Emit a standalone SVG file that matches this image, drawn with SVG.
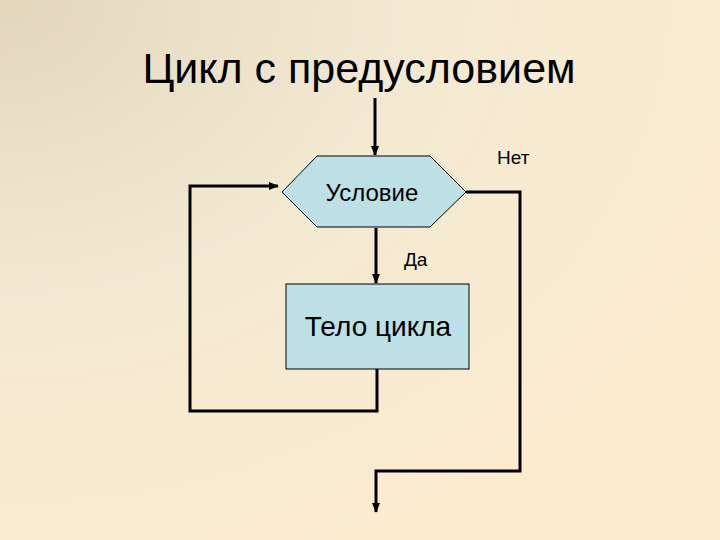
<svg xmlns="http://www.w3.org/2000/svg" width="720" height="540" viewBox="0 0 720 540">
<defs>
<radialGradient id="bg" cx="0" cy="0" r="1.1" gradientUnits="objectBoundingBox">
<stop offset="0" stop-color="#e2d7bd"/><stop offset="0.5" stop-color="#f3e9d2"/><stop offset="1" stop-color="#fbecd0"/>
</radialGradient>
<marker id="ar" viewBox="0 0 10 10" refX="9" refY="5" markerWidth="10" markerHeight="10" markerUnits="userSpaceOnUse" orient="auto"><path d="M0,1 L10,5 L0,9 z" fill="#000"/></marker>
<style>
.ln{fill:none;stroke:#000;stroke-width:3}
.sh{fill:#bde0e6;stroke:#000;stroke-width:1}
text{font-family:"Liberation Sans",Arial,sans-serif;fill:#000}
</style>
</defs>
<rect width="720" height="540" fill="url(#bg)"/>
<text x="359" y="83" font-size="43" text-anchor="middle">Цикл с предусловием</text>
<g id="connectors">
<path class="ln" d="M375,98 V155" marker-end="url(#ar)"/>
<path class="ln" d="M376,228 V283" marker-end="url(#ar)"/>
<path class="ln" d="M377,369 V411 H190 V186 H278" marker-end="url(#ar)"/>
<path class="ln" d="M466,192 H520 V471 H376 V512" marker-end="url(#ar)"/>
</g>
<g id="cond"><polygon class="sh" points="282,192 317,156 430,156 466,192 430,227 317,227"/><text x="372" y="201" font-size="24" text-anchor="middle">Условие</text></g>
<g id="body"><rect class="sh" x="286" y="284" width="183" height="85"/><text x="378" y="336" font-size="28" text-anchor="middle">Тело цикла</text></g>
<text x="404" y="266" font-size="19">Да</text>
<text x="497" y="164" font-size="19">Нет</text>
</svg>
